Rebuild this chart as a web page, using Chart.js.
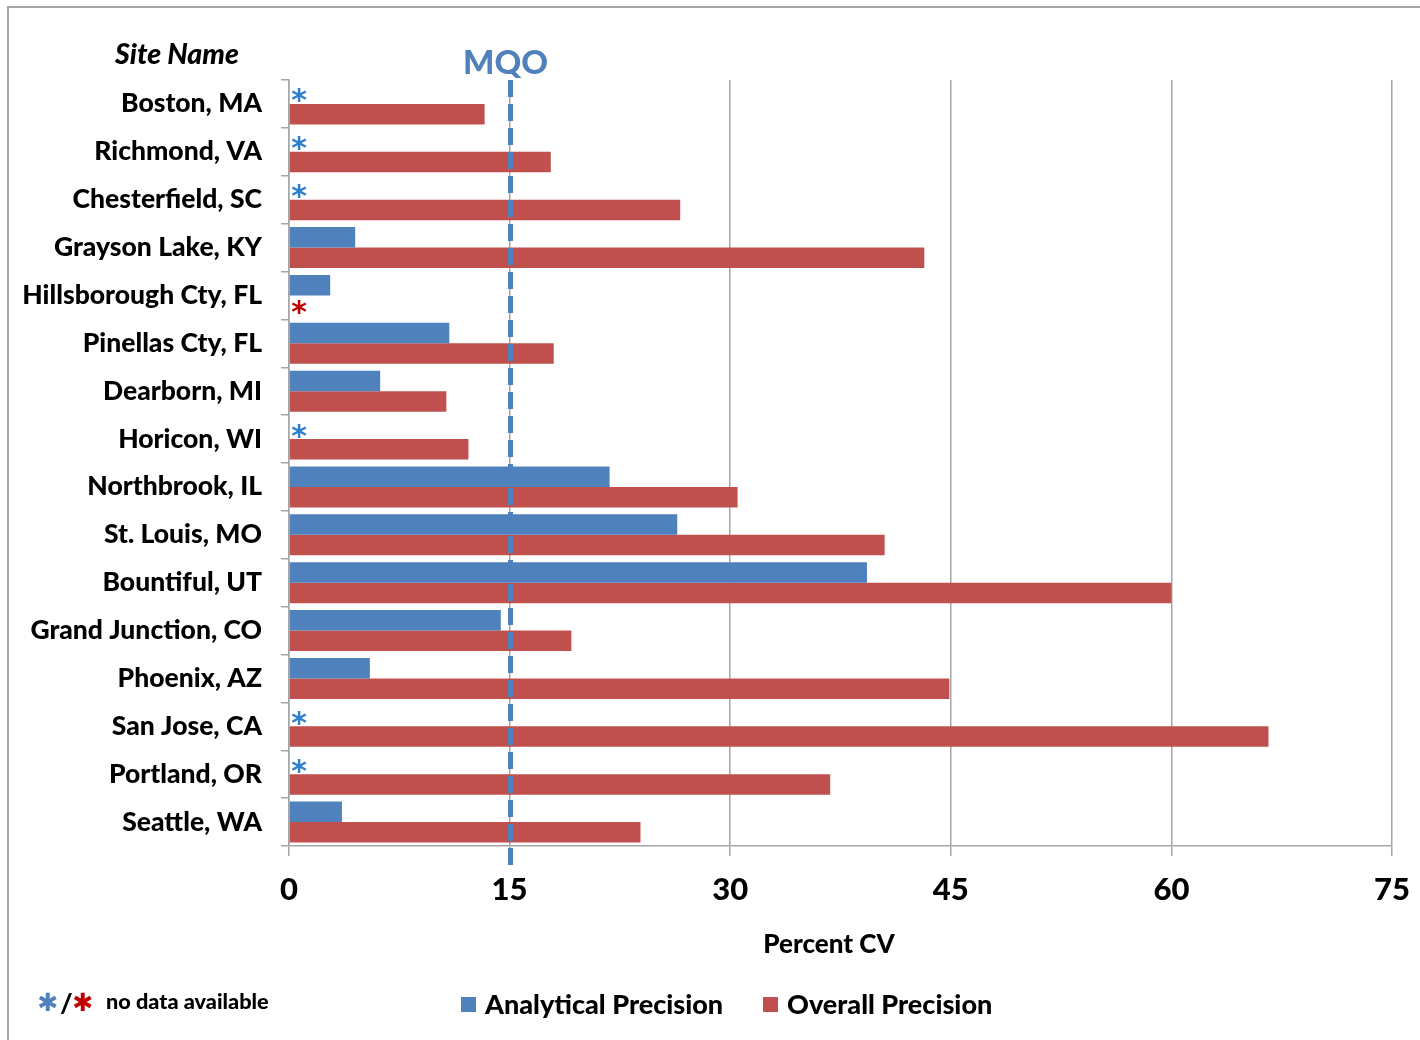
<!DOCTYPE html>
<html>
<head>
<meta charset="utf-8">
<script src="https://cdn.jsdelivr.net/npm/chart.js@4/dist/chart.umd.min.js"></script>
<style>
  html, body { margin: 0; padding: 0; background: #fff; }
  #wrap { position: relative; width: 1420px; height: 1040px; overflow: hidden; }
  canvas { position: absolute; left: 0; top: 0; }
  .lbl { position: absolute; font-family: Lato, "Open Sans", sans-serif; font-weight: 900; color: #000; white-space: nowrap; line-height: 1; }
  .sq { position: absolute; width: 15px; height: 15px; }
  .ast { position: absolute; font-family: "DejaVu Sans", sans-serif; font-size: 25px; line-height: 1; transform: translateX(-50%); }
</style>
</head>
<body>
<div id="wrap">
  <canvas id="c" width="1420" height="1040"></canvas>
  <div class="lbl" style="left:115px; top:39px; font-size:28.5px; font-style:italic;">Site Name</div>
  <div class="ast" style="left:48px; top:990px; color:#4f81bd;">✱</div>
  <div class="lbl" style="left:60px; top:989px; font-size:27px;">/</div>
  <div class="ast" style="left:83px; top:990px; color:#c00000;">✱</div>
  <div class="lbl" style="left:106px; top:991px; font-size:21.7px;">no data available</div>
  <div class="lbl" style="left:829px; top:930px; font-size:26px; transform:translateX(-50%);">Percent CV</div>
  <div class="sq" style="left:461px; top:997px; background:#4f81bd;"></div>
  <div class="lbl" style="left:485px; top:990px; font-size:27px;">Analytical Precision</div>
  <div class="sq" style="left:763px; top:997px; background:#c0504d;"></div>
  <div class="lbl" style="left:787px; top:990px; font-size:27px;">Overall Precision</div>
</div>
<script>
// ---- data ----
const sites = ["Boston, MA","Richmond, VA","Chesterfield, SC","Grayson Lake, KY","Hillsborough Cty, FL","Pinellas Cty, FL","Dearborn, MI","Horicon, WI","Northbrook, IL","St. Louis, MO","Bountiful, UT","Grand Junction, CO","Phoenix, AZ","San Jose, CA","Portland, OR","Seattle, WA"];
const analytical = [null, null, null, 4.5, 2.8, 10.9, 6.2, null, 21.8, 26.4, 39.3, 14.4, 5.5, null, null, 3.6];
const overall = [13.3, 17.8, 26.6, 43.2, null, 18.0, 10.7, 12.2, 30.5, 40.5, 60.0, 19.2, 44.9, 66.6, 36.8, 23.9];
const xTicks = [0, 15, 30, 45, 60, 75];
const mqo = 15;
const seriesNames = ["Analytical Precision", "Overall Precision"];

const FONT = 'Lato, "Open Sans", sans-serif';
const CAT_PCT = 0.856;

const framePlugin = {
  id: 'frame',
  beforeDraw(chart) {
    const ctx = chart.ctx;
    ctx.save();
    ctx.strokeStyle = '#a6a6a6';
    ctx.lineWidth = 2;
    ctx.beginPath();
    ctx.moveTo(8, 1040);
    ctx.lineTo(8, 7);
    ctx.lineTo(1420, 7);
    ctx.stroke();
    ctx.restore();
  }
};

const overlayPlugin = {
  id: 'overlay',
  afterDatasetsDraw(chart) {
    const ctx = chart.ctx;
    const xs = chart.scales.x, ys = chart.scales.y;
    const area = chart.chartArea;
    const mx = Math.round(xs.getPixelForValue(mqo)) + 0.5;
    ctx.save();
    ctx.strokeStyle = '#4f81bd';
    ctx.lineWidth = 5;
    ctx.setLineDash([17, 7]);
    ctx.beginPath();
    ctx.moveTo(mx, area.top);
    ctx.lineTo(mx, area.bottom + 19);
    ctx.stroke();
    ctx.setLineDash([]);
    ctx.fillStyle = '#4f81bd';
    ctx.font = '900 33px ' + FONT;
    ctx.textAlign = 'center';
    ctx.textBaseline = 'middle';
    ctx.fillText('MQO', mx - 5, 63);
    const spacing = (area.bottom - area.top) / sites.length;
    const half = spacing * CAT_PCT / 4;
    const x0 = xs.getPixelForValue(0) + 10;
    ctx.font = 'bold 30px "DejaVu Sans", sans-serif';
    [analytical, overall].forEach((arr, d) => {
      ctx.fillStyle = d === 0 ? '#2f7fd0' : '#c00000';
      arr.forEach((v, i) => {
        if (v === null) {
          const yc = ys.getPixelForValue(i) + (d === 0 ? -half : half);
          ctx.fillText('*', x0, yc + 9);
        }
      });
    });
    ctx.restore();
  }
};

new Chart(document.getElementById('c'), {
  type: 'bar',
  data: {
    labels: sites,
    datasets: [
      { label: seriesNames[0], data: analytical, backgroundColor: '#4f81bd', borderWidth: 0, categoryPercentage: CAT_PCT, barPercentage: 1.0 },
      { label: seriesNames[1], data: overall, backgroundColor: '#c0504d', borderWidth: 0, categoryPercentage: CAT_PCT, barPercentage: 1.0 }
    ]
  },
  options: {
    indexAxis: 'y',
    responsive: false,
    animation: false,
    devicePixelRatio: 1,
    layout: { padding: { left: 0, right: 28, top: 80, bottom: 0 } },
    plugins: { legend: { display: false }, tooltip: { enabled: false } },
    scales: {
      x: {
        min: xTicks[0],
        max: xTicks[xTicks.length - 1],
        afterFit(s) { s.height = 194; s.paddingLeft = 0; s.paddingRight = 0; },
        afterBuildTicks(s) { s.ticks = xTicks.map(v => ({ value: v })); },
        ticks: { color: '#000', font: { family: FONT, size: 31, weight: '900' }, padding: 15, maxRotation: 0 },
        grid: { color: '#a6a6a6', lineWidth: 1.5, tickLength: 10, drawTicks: true },
        border: { color: '#a6a6a6', width: 1.5 },
        title: { display: false }
      },
      y: {
        afterFit(s) { s.width = 289; s.paddingTop = 0; s.paddingBottom = 0; },
        ticks: { color: '#000', font: { family: FONT, size: 26.5, weight: '900' }, padding: 19, autoSkip: false },
        grid: { drawOnChartArea: false, drawTicks: true, tickLength: 8, color: '#a6a6a6', lineWidth: 1.5 },
        border: { color: '#a6a6a6', width: 1.5 }
      }
    }
  },
  plugins: [framePlugin, overlayPlugin]
});
</script>
</body>
</html>
